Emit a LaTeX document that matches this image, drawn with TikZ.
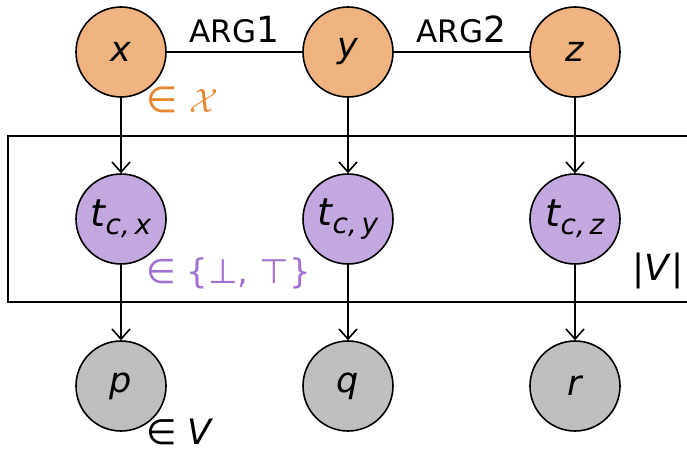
\documentclass[tikz,border=0pt]{standalone}
\usepackage{fontspec}
\setmainfont{DejaVu Sans}
\usetikzlibrary{arrows.meta}
\definecolor{nodeorange}{RGB}{240,180,130}
\definecolor{nodepurple}{RGB}{196,168,224}
\definecolor{nodegray}{RGB}{191,191,191}
\definecolor{txtorange}{RGB}{232,135,50}
\definecolor{txtpurple}{RGB}{160,115,210}
\tikzset{
  var/.style={circle, draw=black, line width=1.6pt, minimum size=90pt, inner sep=0pt, font=\fontsize{35}{40}\selectfont\itshape},
  obs/.style={var, fill=nodeorange},
  lat/.style={var, fill=nodepurple},
  leaf/.style={var, fill=nodegray},
  conn/.style={line width=1.6pt},
  arr/.style={conn, -{Straight Barb[length=10pt,width=18pt,line width=1.6pt]}},
  lbl/.style={inner sep=0pt, anchor=base west},
  argl/.style={above=8pt, inner sep=0pt, font=\fontsize{31}{34}\selectfont},
}
\begin{document}
\begin{tikzpicture}[x=1pt,y=-1pt]
\useasboundingbox (0,0) rectangle (687,452);
% plate
\draw[conn] (690,136) -- (8,136) -- (8,302) -- (690,302);
% nodes
\node[obs] (x) at (121,52) {x};
\node[obs] (y) at (348,52) {y};
\node[obs] (z) at (575,52) {z};
\node[lat] (tx) at (121,219) {\fontsize{38}{40}\selectfont t\fontsize{28}{30}\selectfont\raisebox{-8pt}{c,\,x}};
\node[lat] (ty) at (348,219) {\fontsize{38}{40}\selectfont t\fontsize{28}{30}\selectfont\raisebox{-8pt}{c,\,y}};
\node[lat] (tz) at (575,219) {\fontsize{38}{40}\selectfont t\fontsize{28}{30}\selectfont\raisebox{-8pt}{c,\,z}};
\node[leaf] (p) at (121,386) {p};
\node[leaf] (q) at (348,386) {q};
\node[leaf] (r) at (575,386) {r};
% edges
\draw[conn] (x) -- node[argl] (a1) {ARG{\fontsize{36}{36}\selectfont 1}} (y);
\draw[conn] (y) -- node[argl] (a2) {ARG{\fontsize{36}{36}\selectfont 2}} (z);
\draw[arr] (x) -- (tx);
\draw[arr] (y) -- (ty);
\draw[arr] (z) -- (tz);
\draw[arr] (tx) -- (p);
\draw[arr] (ty) -- (q);
\draw[arr] (tz) -- (r);
% labels
\node[lbl, text=txtorange, font=\fontsize{36}{40}\selectfont] (lx) at (146,112) {∈ \scalebox{1.35}{$\mathcal{X}$}};
\node[lbl, text=txtpurple, font=\fontsize{34}{40}\selectfont] (lt) at (146,283) {∈ \{⊥, ⊤\}};
\node[lbl, font=\fontsize{36}{40}\selectfont] (lV) at (632,280) {|\textit{V}|};
\node[lbl, font=\fontsize{35}{40}\selectfont] (lp) at (146,444) {∈ \textit{V}};
\end{tikzpicture}
\end{document}
